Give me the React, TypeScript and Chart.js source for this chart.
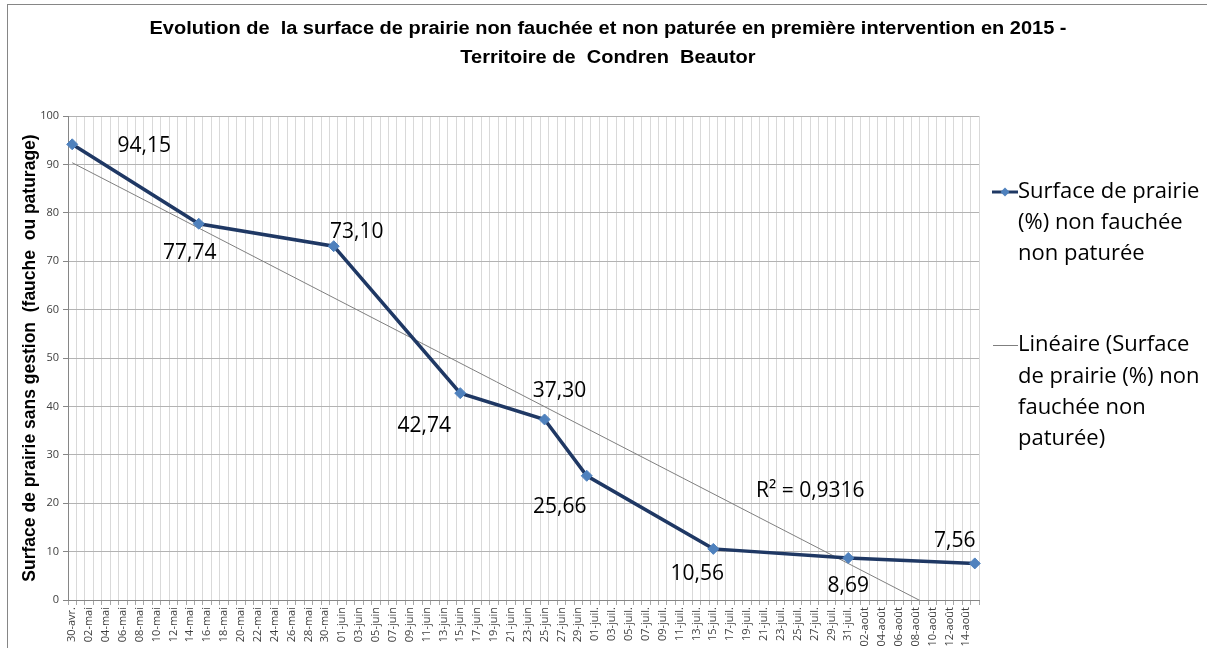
import { useEffect, useRef } from 'react';
import { Chart, registerables } from 'chart.js';
Chart.register(...registerables);

// ---- Data ----
const dayLabels: string[] = [
  '30-avr.',
  '01-mai', '02-mai', '03-mai', '04-mai', '05-mai', '06-mai', '07-mai', '08-mai', '09-mai', '10-mai',
  '11-mai', '12-mai', '13-mai', '14-mai', '15-mai', '16-mai', '17-mai', '18-mai', '19-mai', '20-mai',
  '21-mai', '22-mai', '23-mai', '24-mai', '25-mai', '26-mai', '27-mai', '28-mai', '29-mai', '30-mai', '31-mai',
  '01-juin', '02-juin', '03-juin', '04-juin', '05-juin', '06-juin', '07-juin', '08-juin', '09-juin', '10-juin',
  '11-juin', '12-juin', '13-juin', '14-juin', '15-juin', '16-juin', '17-juin', '18-juin', '19-juin', '20-juin',
  '21-juin', '22-juin', '23-juin', '24-juin', '25-juin', '26-juin', '27-juin', '28-juin', '29-juin', '30-juin',
  '01-juil.', '02-juil.', '03-juil.', '04-juil.', '05-juil.', '06-juil.', '07-juil.', '08-juil.', '09-juil.', '10-juil.',
  '11-juil.', '12-juil.', '13-juil.', '14-juil.', '15-juil.', '16-juil.', '17-juil.', '18-juil.', '19-juil.', '20-juil.',
  '21-juil.', '22-juil.', '23-juil.', '24-juil.', '25-juil.', '26-juil.', '27-juil.', '28-juil.', '29-juil.', '30-juil.', '31-juil.',
  '01-août', '02-août', '03-août', '04-août', '05-août', '06-août', '07-août', '08-août', '09-août', '10-août',
  '11-août', '12-août', '13-août', '14-août', '15-août',
];
const sampleDates: string[] = ['30-avr.', '15-mai', '31-mai', '15-juin', '25-juin', '30-juin', '15-juil.', '31-juil.', '15-août'];
const surfaceValues: number[] = [94.15, 77.74, 73.1, 42.74, 37.3, 25.66, 10.56, 8.69, 7.56];

const titleLines: string[] = [
  'Evolution de  la surface de prairie non fauchée et non paturée en première intervention en 2015 -',
  'Territoire de  Condren  Beautor',
];
const yAxisTitle = 'Surface de prairie sans gestion  (fauche  ou paturage)';
const seriesLegendLines: string[] = ['Surface de prairie', '(%) non fauchée', 'non paturée'];
const trendLegendLines: string[] = ['Linéaire (Surface', 'de prairie (%) non', 'fauchée non', 'paturée)'];

// label offsets (px) relative to each point
const valueLabelOffsets: [number, number][] = [
  [72, 2], [-9, 29], [23, -14], [-36, 33], [15, -28], [-27, 31], [-16, 25], [0, 28], [-20, -22],
];

// ---- Regression (trendline) ----
const xs = sampleDates.map((d) => dayLabels.indexOf(d));
const n = xs.length;
const mx = xs.reduce((a, b) => a + b, 0) / n;
const my = surfaceValues.reduce((a, b) => a + b, 0) / n;
let sxy = 0, sxx = 0;
for (let i = 0; i < n; i++) { sxy += (xs[i] - mx) * (surfaceValues[i] - my); sxx += (xs[i] - mx) ** 2; }
const slope = sxy / sxx;
const intercept = my - slope * mx;
let ssRes = 0, ssTot = 0;
for (let i = 0; i < n; i++) {
  ssRes += (surfaceValues[i] - (intercept + slope * xs[i])) ** 2;
  ssTot += (surfaceValues[i] - my) ** 2;
}
const r2 = 1 - ssRes / ssTot;
const lastIdx = dayLabels.length - 1;
const trendPoints = [
  { x: dayLabels[0], y: intercept },
  { x: dayLabels[lastIdx], y: intercept + slope * lastIdx },
];

const fmt = (v: number) => v.toFixed(2).replace('.', ',');

const overlayPlugin = {
  id: 'overlay',
  afterDatasetsDraw(chart: any) {
    const ctx = chart.ctx;
    const meta = chart.getDatasetMeta(0);
    ctx.save();
    ctx.font = '21px "Open Sans", sans-serif';
    ctx.fillStyle = '#000';
    ctx.textAlign = 'center';
    ctx.textBaseline = 'middle';
    meta.data.forEach((pt: any, i: number) => {
      const [dx, dy] = valueLabelOffsets[i];
      ctx.fillText(fmt(surfaceValues[i]), pt.x + dx, pt.y + dy);
    });
    // R² label
    const xs2 = chart.scales.x;
    const ys2 = chart.scales.y;
    const rx = (xs2.getPixelForValue(87) + xs2.getPixelForValue(88)) / 2;
    const ry = ys2.getPixelForValue(22.6);
    ctx.fillText('R² = ' + r2.toFixed(4).replace('.', ','), rx, ry);
    ctx.restore();
  },
  afterDraw(chart: any) {
    const ctx = chart.ctx;
    ctx.save();
    // frame
    ctx.strokeStyle = '#868686';
    ctx.lineWidth = 1;
    ctx.strokeRect(7.5, 4.5, 1400, 800);
    // title (fitted to the reference width)
    ctx.fillStyle = '#000';
    ctx.textAlign = 'center';
    ctx.textBaseline = 'middle';
    const fam = '"Liberation Sans", sans-serif';
    ctx.font = 'bold 18px ' + fam;
    const w = ctx.measureText(titleLines[0]).width;
    const sx = 917 / w;
    ctx.save();
    ctx.translate(608, 0);
    ctx.scale(sx, 1);
    ctx.fillText(titleLines[0], 0, 29);
    ctx.fillText(titleLines[1], 0, 58);
    ctx.restore();
    // legend
    ctx.textAlign = 'left';
    ctx.font = '22px "Open Sans", sans-serif';
    const lx = 1018;
    // series entry
    ctx.strokeStyle = '#1F3864';
    ctx.lineWidth = 3;
    ctx.beginPath();
    ctx.moveTo(992, 192);
    ctx.lineTo(1018, 192);
    ctx.stroke();
    ctx.fillStyle = '#4F81BD';
    ctx.beginPath();
    ctx.moveTo(1005, 187.5);
    ctx.lineTo(1009.5, 192);
    ctx.lineTo(1005, 196.5);
    ctx.lineTo(1000.5, 192);
    ctx.closePath();
    ctx.fill();
    ctx.fillStyle = '#000';
    seriesLegendLines.forEach((t, i) => ctx.fillText(t, lx, 192 + i * 31));
    // trend entry
    ctx.strokeStyle = '#7F7F7F';
    ctx.lineWidth = 1;
    ctx.beginPath();
    ctx.moveTo(993, 345.5);
    ctx.lineTo(1018, 345.5);
    ctx.stroke();
    trendLegendLines.forEach((t, i) => ctx.fillText(t, lx, 345 + i * 31.3));
    ctx.restore();
  },
};

export default function App() {
  const ref = useRef<HTMLCanvasElement | null>(null);
  useEffect(() => {
    document.body.style.overflow = 'hidden';
    const canvas = ref.current;
    if (!canvas) return;
    const chart = new Chart(canvas, {
      type: 'line',
      data: {
        labels: dayLabels,
        datasets: [
          {
            label: 'Surface de prairie (%) non fauchée non paturée',
            data: sampleDates.map((d, i) => ({ x: d, y: surfaceValues[i] })),
            borderColor: '#1F3864',
            backgroundColor: '#4F81BD',
            borderWidth: 3.5,
            pointStyle: 'rectRot',
            pointRadius: 5.5,
            pointBackgroundColor: '#4F81BD',
            pointBorderColor: '#4F81BD',
            pointBorderWidth: 1,
            tension: 0,
            order: 0,
          },
          {
            label: 'Linéaire (Surface de prairie (%) non fauchée non paturée)',
            data: trendPoints,
            borderColor: '#7F7F7F',
            borderWidth: 1,
            pointRadius: 0,
            tension: 0,
            order: 1,
          },
        ],
      },
      options: {
        responsive: false,
        animation: false,
        devicePixelRatio: 1,
        layout: { padding: { left: 8, right: 228, top: 116, bottom: 0 } },
        plugins: {
          legend: { display: false },
          title: { display: false },
          tooltip: { enabled: false },
        },
        scales: {
          x: {
            type: 'category',
            offset: true,
            grid: { offset: true, color: '#D9D9D9', lineWidth: 1, tickLength: 5, tickColor: '#A6A6A6' },
            border: { color: '#868686' },
            ticks: {
              autoSkip: false,
              minRotation: 90,
              maxRotation: 90,
              padding: 2,
              color: '#404040',
              font: { size: 11, family: '"Open Sans", sans-serif' },
              callback: (_v: any, i: number) => (i % 2 === 0 ? dayLabels[i] : ''),
            },
            afterFit: (s: any) => { s.height = 48; },
          },
          y: {
            min: 0,
            max: 100,
            grid: { color: '#B3B3B3', tickLength: 5, tickColor: '#868686' },
            border: { color: '#868686' },
            ticks: {
              stepSize: 10,
              padding: 4,
              color: '#404040',
              font: { size: 11, family: '"Open Sans", sans-serif' },
            },
            title: {
              display: true,
              text: yAxisTitle,
              color: '#000',
              font: { size: 17.5, weight: 'bold', family: '"Liberation Sans", sans-serif' },
              padding: { top: 12, bottom: 0 },
            },
            afterFit: (s: any) => { s.width = 60; },
          },
        },
      },
      plugins: [overlayPlugin],
    } as any);
    return () => chart.destroy();
  }, []);
  return (
    <div style={{ position: 'fixed', left: 0, top: 0, width: 1207, height: 648, background: '#fff' }}>
      <canvas ref={ref} width={1207} height={648} style={{ width: 1207, height: 648, display: 'block' }} />
    </div>
  );
}
